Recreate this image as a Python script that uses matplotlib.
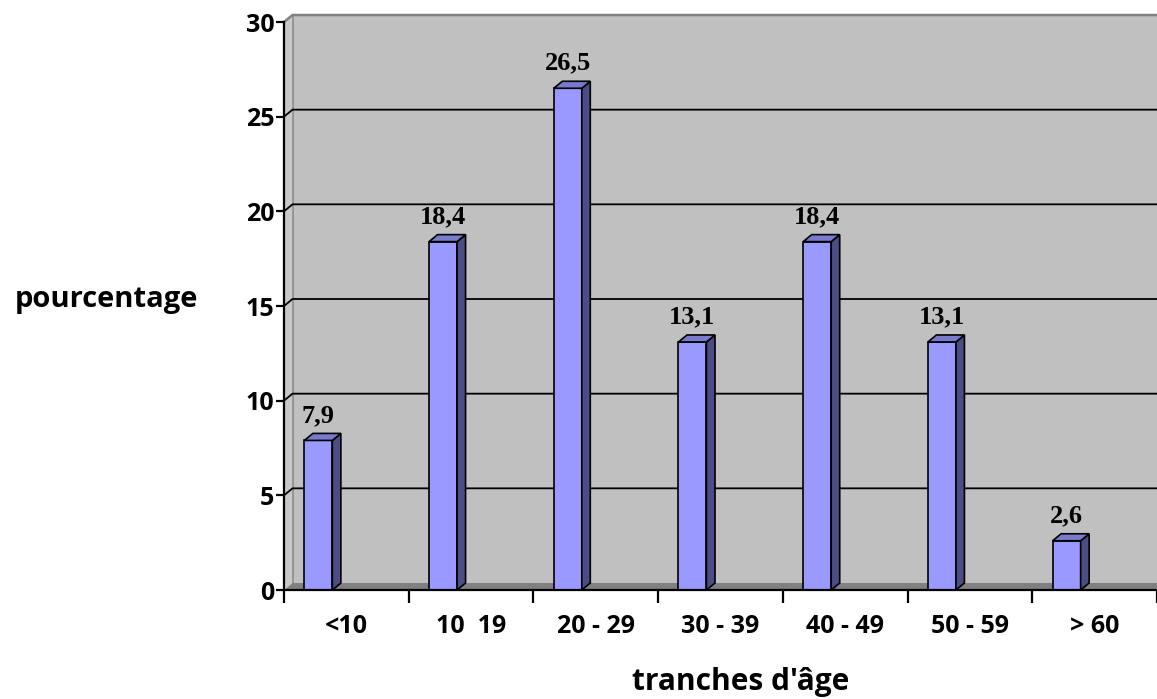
import matplotlib
matplotlib.use("Agg")
import matplotlib.pyplot as plt
from matplotlib.patches import Polygon

# données : répartition par tranche d'âge (%)
categories = ["<10", "10  19", "20 - 29", "30 - 39", "40 - 49", "50 - 59", "> 60"]
valeurs = [7.9, 18.4, 26.5, 13.1, 18.4, 13.1, 2.6]
etiquettes = ["7,9", "18,4", "26,5", "13,1", "18,4", "13,1", "2,6"]
graduations = [0, 5, 10, 15, 20, 25, 30]

police = "Open Sans"

W, H = 1157, 699
fig = plt.figure(figsize=(W / 100, H / 100), dpi=100)
fig.patch.set_facecolor("white")
ax = fig.add_axes([284 / W, 1 - 590 / H, 873 / W, 568 / H])
ax.set_xlim(0, len(categories))
ax.set_ylim(0, 30)
ax.set_facecolor("none")

# profondeur de l'effet 3D (en unités de données)
dx = 8.5 / 124.7
dy = 7 / 18.93
n = len(categories)

mur = "#c0c0c0"
# paroi du fond
ax.add_patch(Polygon([(dx, dy), (n + dx, dy), (n + dx, 30 + dy), (dx, 30 + dy)],
                     closed=True, facecolor=mur, edgecolor="none", zorder=0, clip_on=False))
# paroi latérale
ax.add_patch(Polygon([(0, 0), (dx, dy), (dx, 30 + dy), (0, 30)],
                     closed=True, facecolor="#c8c8c8", edgecolor="none", zorder=0, clip_on=False))
ax.plot([dx, dx], [dy, 30 + dy], color="#8a8a8a", lw=1.2, zorder=1, clip_on=False)
ax.plot([0, dx, n + dx], [30, 30 + dy, 30 + dy], color="#808080", lw=1.8, zorder=1, clip_on=False)

# quadrillage sur le fond et la paroi latérale
for g in graduations[1:-1]:
    ax.plot([0, dx, n + dx], [g, g + dy, g + dy], color="black", lw=1.3, zorder=1, clip_on=False)

# plancher
ax.add_patch(Polygon([(0, 0), (dx, dy), (n + dx, dy), (n, 0)],
                     closed=True, facecolor="#808080", edgecolor="none", zorder=2, clip_on=False))

# barres
largeur = 28 / 124.7
decalage = 42 / 124.7
for i, v in enumerate(valeurs):
    x0 = i + 0.5 - decalage
    x1 = x0 + largeur
    ax.bar(x0, v, width=largeur, align="edge", color="#9999ff",
           edgecolor="black", linewidth=1.2, zorder=4)
    ax.add_patch(Polygon([(x1, 0), (x1 + dx, dy), (x1 + dx, v + dy), (x1, v)],
                         closed=True, facecolor="#4d4d85", edgecolor="black",
                         linewidth=1.2, zorder=4, clip_on=False))
    ax.add_patch(Polygon([(x0, v), (x0 + dx, v + dy), (x1 + dx, v + dy), (x1, v)],
                         closed=True, facecolor="#7a7acc", edgecolor="black",
                         linewidth=1.2, zorder=4, clip_on=False))
    ax.annotate(etiquettes[i], (x0 + largeur / 2, v), xytext=(0, 18),
                textcoords="offset points", ha="center", va="center",
                fontsize=19, fontweight="bold", family="Liberation Serif", zorder=5)

# axes
for s in ["top", "right"]:
    ax.spines[s].set_visible(False)
for s in ["left", "bottom"]:
    ax.spines[s].set_color("black")
    ax.spines[s].set_linewidth(1.6)
    ax.spines[s].set_zorder(6)

ax.set_yticks(graduations)
ax.set_yticklabels([str(g) for g in graduations], fontsize=18, fontweight="bold", family=police)
ax.set_xticks(range(n + 1))
ax.set_xticklabels([])
ax.set_xticks([i + 0.5 for i in range(n)], minor=True)
ax.set_xticklabels(categories, minor=True, fontsize=18, fontweight="bold", family=police)
ax.tick_params(axis="y", direction="out", length=6, width=1.6, pad=1)
ax.tick_params(axis="x", which="major", direction="out", length=9, width=1.6)
ax.tick_params(axis="x", which="minor", length=0, pad=17)

fig.text(106 / W, 1 - 300 / H, "pourcentage", ha="center", va="center",
         fontsize=21, fontweight="bold", family=police)
fig.text(741 / W, 1 - 682 / H, "tranches d'âge", ha="center", va="center",
         fontsize=21.5, fontweight="bold", family=police)

fig.savefig("out.png", dpi=100)
